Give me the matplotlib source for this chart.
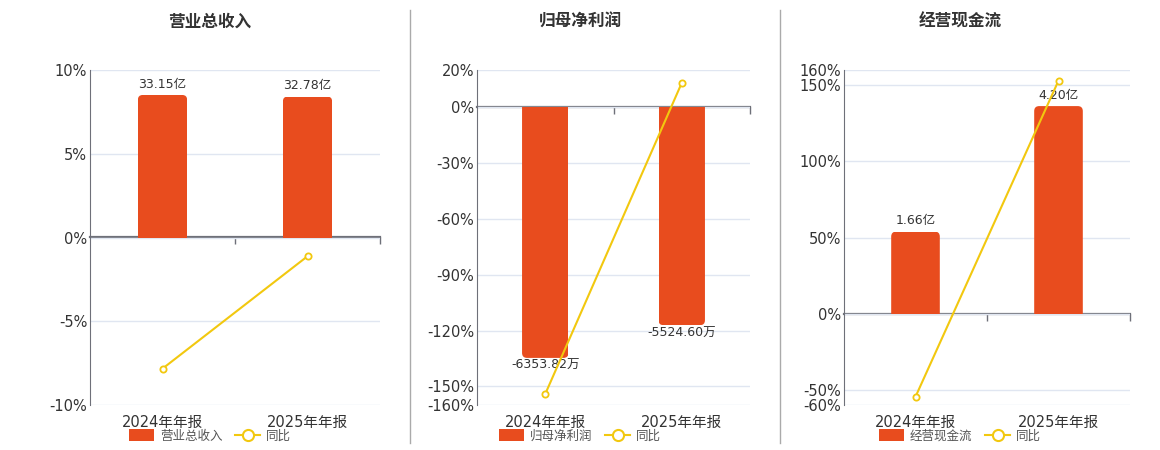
import matplotlib
matplotlib.use('Agg')
import matplotlib.pyplot as plt
from matplotlib.patches import FancyBboxPatch, Patch
from matplotlib.lines import Line2D

plt.rcParams['font.family'] = ['DejaVu Sans', 'Noto Sans CJK SC']

# 数据
categories = ['2024年年报', '2025年年报']
titles = ['营业总收入', '归母净利润', '经营现金流']

revenue = [33.15, 32.78]            # 亿
revenue_labels = ['33.15亿', '32.78亿']
revenue_yoy = [-7.83, -1.12]        # %

profit = [-6353.82, -5524.60]       # 万
profit_labels = ['-6353.82万', '-5524.60万']
profit_yoy = [-154.1, 13.05]

cashflow = [1.66, 4.20]             # 亿
cashflow_labels = ['1.66亿', '4.20亿']
cashflow_yoy = [-54.6, 153.0]

# 坐标轴设置
ylims = [(-10, 10), (-160, 20), (-60, 160)]
yticks = [[-10, -5, 0, 5, 10],
          [-160, -150, -120, -90, -60, -30, 0, 20],
          [-60, -50, 0, 50, 100, 150, 160]]
bar_scale = [33.15 / 8.51, 6353.82 / 134.7, 4.20 / 136.3]

BAR = '#E84C1E'
LINE = '#F2C80F'
AXIS = '#6E7079'
GRID = '#E0E6F1'
TXT = '#333333'

fig = plt.figure(figsize=(11.6, 4.5), dpi=100)
W, H = 1160, 450
boxes = [(90, 290), (477, 273), (844, 286)]
centers = [210, 580, 960]

series = [(revenue, revenue_labels, revenue_yoy),
          (profit, profit_labels, profit_yoy),
          (cashflow, cashflow_labels, cashflow_yoy)]

for i, (vals, labels, yoy) in enumerate(series):
    left, width = boxes[i]
    ax = fig.add_axes([left / W, 45 / H, width / W, 335 / H])
    lo, hi = ylims[i]
    ax.set_ylim(lo, hi)
    ax.set_xlim(-0.5, 1.5)
    ax.set_yticks(yticks[i])
    ax.set_yticklabels([f'{t}%' for t in yticks[i]], fontsize=10.5, color=TXT)
    ax.set_xticks(range(len(categories)))
    ax.set_xticklabels(categories, fontsize=10.5, color=TXT)
    ax.tick_params(axis='x', length=0, pad=7)
    ax.tick_params(axis='y', length=0, pad=2)
    ax.grid(axis='y', color=GRID, lw=1)
    ax.set_axisbelow(True)
    for s in ['top', 'right', 'bottom']:
        ax.spines[s].set_visible(False)
    ax.spines['left'].set_color(AXIS)

    # 零轴
    loc0 = (0 - lo) / (hi - lo)
    sec = ax.secondary_xaxis(loc0)
    sec.set_xticks([0.5, 1.5])
    sec.set_xticklabels([])
    sec.tick_params(direction='in' if loc0 >= 0.5 else 'out',
                    length=5, color=AXIS, width=1)
    for sp in sec.spines.values():
        sp.set_color(AXIS)
        sp.set_linewidth(1.6)

    # 柱状图（隐藏的副轴）
    k = bar_scale[i]
    axb = ax.twinx()
    axb.set_ylim(lo * k, hi * k)
    axb.set_axis_off()
    bars = axb.bar(range(len(vals)), vals, width=0.34, color=BAR, zorder=2)
    pads = [3 if v >= 0 else 1 for v in vals]
    axb.bar_label(bars, labels=labels, padding=pads[0], fontsize=9, color=TXT)

    # 圆角（超出零轴的部分被柱子本身裁掉）
    px_x = width / 2.0
    px_y = 335 / ((hi - lo) * k)
    r = 5 / px_x
    ry = 5 / px_y
    for rect in bars:
        x0, w, h = rect.get_x(), rect.get_width(), rect.get_height()
        if h >= 0:
            y0, hh = -ry, h + ry
        else:
            y0, hh = h, -h + ry
        rp = FancyBboxPatch((x0, y0), w, hh,
                            boxstyle=f'round,pad=0,rounding_size={r}',
                            mutation_aspect=px_x / px_y,
                            fc=BAR, ec='none', zorder=2)
        axb.add_patch(rp)
        rp.set_clip_path(rect)
        rect.set_visible(False)

    # 同比折线
    axl = ax.twinx()
    axl.set_ylim(lo, hi)
    axl.set_axis_off()
    axl.plot(range(len(yoy)), yoy, color=LINE, lw=1.5, marker='o', ms=4.5,
             mfc='white', mec=LINE, mew=1.3, zorder=3)

    fig.text(centers[i] / W, 1 - 22 / H, titles[i], ha='center', va='center',
             fontsize=12, fontweight='bold', color=TXT)

    handles = [Patch(fc=BAR, ec='none'),
               Line2D([], [], color=LINE, lw=1.5, marker='o', ms=8,
                      mfc='white', mec=LINE, mew=1.5)]
    fig.legend(handles, [titles[i], '同比'], loc='center',
               bbox_to_anchor=(centers[i] / W, 1 - 436 / H), ncol=2,
               frameon=False, fontsize=9, handlelength=2.0, handleheight=1.1,
               columnspacing=1.0, handletextpad=0.5, labelcolor='#555555')

# 分隔线
for xs in [410, 780]:
    fig.add_artist(Line2D([xs / W, xs / W], [1 - 443 / H, 1 - 10 / H],
                          color='#AAAAAA', lw=1))

fig.savefig('out.png', dpi=100)
